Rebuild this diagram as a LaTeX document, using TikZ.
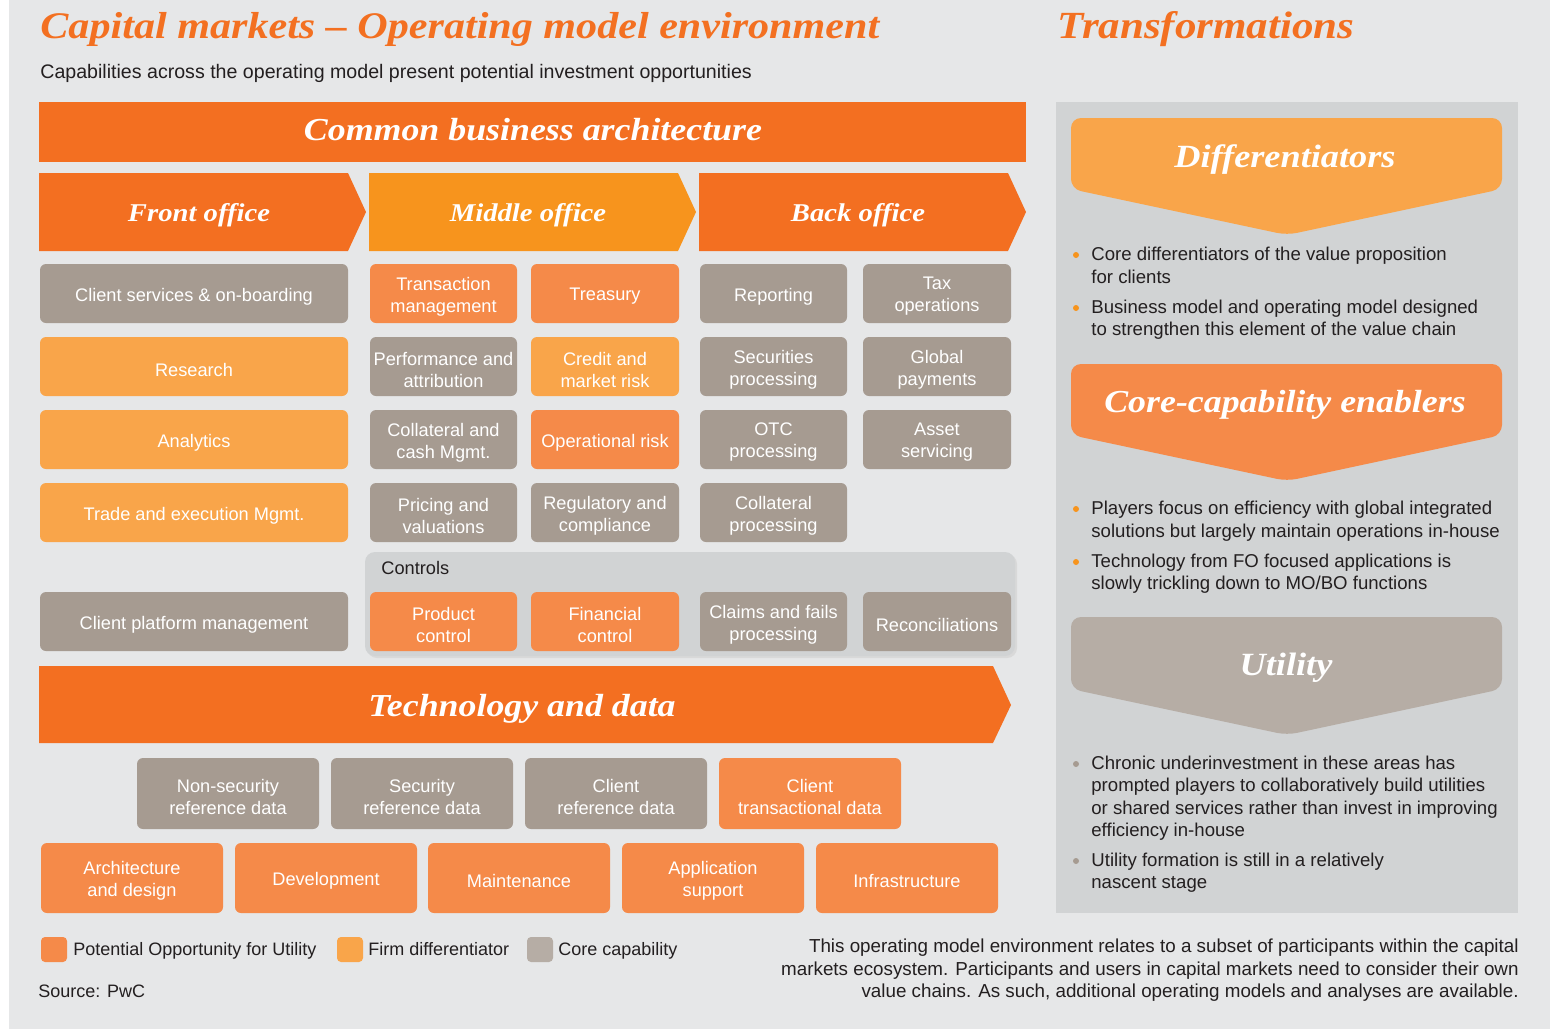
\documentclass[tikz,border=0pt]{standalone}
\usepackage{fontspec}
\setmainfont{Liberation Sans}
\newfontfamily\hdrfont{Liberation Serif}[FakeStretch=1.12]
\definecolor{bg}{HTML}{E6E7E8}
\definecolor{dorange}{HTML}{F36F21}
\definecolor{morange}{HTML}{F7941D}
\definecolor{corange}{HTML}{F58A49}
\definecolor{lorange}{HTML}{F9A54A}
\definecolor{bgray}{HTML}{A69B91}
\definecolor{ugray}{HTML}{B6ADA5}
\definecolor{panel}{HTML}{D1D3D4}
\definecolor{txt}{HTML}{231F20}
\definecolor{ttl}{HTML}{F37021}
\newcommand\bx[7]{\fill[#6,rounded corners=3pt] (#2,#3) rectangle (#4,#5);
  \node[boxtext] (#1) at ({(#2+#4)/2},{(#3+#5)/2}) {#7};}
\begin{document}
\begin{tikzpicture}[x=0.5pt,y=-0.5pt,
  boxtext/.style={text=white, align=center, inner sep=0pt, yshift=-1.5pt, font=\fontsize{9.1}{11}\selectfont},
  hdr/.style={text=white, inner sep=0pt, anchor=base, font=\hdrfont\bfseries\itshape\fontsize{#1}{#1}\selectfont},
  bul/.style={anchor=base west, inner sep=0pt, text=txt, font=\fontsize{9.3}{11}\selectfont},
  nar/.style={inner sep=0pt, text=txt, font=\fontsize{9}{11}\selectfont}]
\useasboundingbox (0,0) rectangle (1555,1029);
\fill[white] (0,0) rectangle (1555,1029);
\fill[bg] (9,0) rectangle (1550,1029);
% titles
\node[anchor=base west, inner sep=0pt, text=ttl, font=\hdrfont\bfseries\itshape\fontsize{18.8}{19}\selectfont] (title) at (40,38) {Capital markets – Operating model environment};
\node[anchor=base west, inner sep=0pt, text=ttl, font=\hdrfont\bfseries\itshape\fontsize{19.2}{19}\selectfont] (trans) at (1057,38) {Transformations};
\node[anchor=base west, inner sep=0pt, text=txt, font=\fontsize{9.8}{11}\selectfont] (sub) at (40,78) {Capabilities across the operating model present potential investment opportunities};
% common business architecture
\fill[dorange] (39,102) rectangle (1026,162);
\node[hdr=16] (cba) at (533,140) {Common business architecture};
% office arrows
\fill[dorange] (39,173) -- (348,173) -- (366,212) -- (348,251) -- (39,251) -- cycle;
\fill[morange] (369,173) -- (678,173) -- (696,212) -- (678,251) -- (369,251) -- cycle;
\fill[dorange] (699,173) -- (1008,173) -- (1026,212) -- (1008,251) -- (699,251) -- cycle;
\node[hdr=12.8] (fo) at (199,221) {Front office};
\node[hdr=12.8] (mo) at (528,221) {Middle office};
\node[hdr=12.8] (bo) at (858,221) {Back office};
% controls panel
\fill[black!15, rounded corners=5pt] (367,554) rectangle (1017,658);
\fill[panel, rounded corners=5pt] (365,552) rectangle (1015,656);
\node[anchor=base west, inner sep=0pt, text=txt, font=\fontsize{9.1}{11}\selectfont] (ctl) at (381,574) {Controls};
% row 1
\bx{b11}{40}{264}{348}{323}{bgray}{Client services \& on-boarding}
\bx{b12}{370}{264}{517}{323}{corange}{Transaction\\management}
\bx{b13}{531}{264}{679}{323}{corange}{Treasury}
\bx{b14}{700}{264}{847}{323}{bgray}{Reporting}
\bx{b15}{863}{264}{1011}{323}{bgray}{Tax\\operations}
% row 2
\bx{b21}{40}{337}{348}{396}{lorange}{Research}
\bx{b22}{370}{337}{517}{396}{bgray}{Performance and\\attribution}
\bx{b23}{531}{337}{679}{396}{lorange}{Credit and\\market risk}
\bx{b24}{700}{337}{847}{396}{bgray}{Securities\\processing}
\bx{b25}{863}{337}{1011}{396}{bgray}{Global\\payments}
% row 3
\bx{b31}{40}{410}{348}{469}{lorange}{Analytics}
\bx{b32}{370}{410}{517}{469}{bgray}{Collateral and\\cash Mgmt.}
\bx{b33}{531}{410}{679}{469}{corange}{Operational risk}
\bx{b34}{700}{410}{847}{469}{bgray}{OTC\\processing}
\bx{b35}{863}{410}{1011}{469}{bgray}{Asset\\servicing}
% row 4
\bx{b41}{40}{483}{348}{542}{lorange}{Trade and execution Mgmt.}
\bx{b42}{370}{483}{517}{542}{bgray}{Pricing and\\valuations}
\bx{b43}{531}{483}{679}{542}{bgray}{Regulatory and\\compliance}
\bx{b44}{700}{483}{847}{542}{bgray}{Collateral\\processing}
% controls row
\bx{b51}{40}{592}{348}{651}{bgray}{Client platform management}
\bx{b52}{370}{592}{517}{651}{corange}{Product\\control}
\bx{b53}{531}{592}{679}{651}{corange}{Financial\\control}
\bx{b54}{700}{592}{847}{651}{bgray}{Claims and fails\\processing}
\bx{b55}{863}{592}{1011}{651}{bgray}{Reconciliations}
% technology and data
\fill[dorange] (39,666) -- (993,666) -- (1011,705) -- (993,743) -- (39,743) -- cycle;
\node[hdr=16] (tech) at (522,716) {Technology and data};
\bx{t11}{137}{758}{319}{829}{bgray}{Non-security\\reference data}
\bx{t12}{331}{758}{513}{829}{bgray}{Security\\reference data}
\bx{t13}{525}{758}{707}{829}{bgray}{Client\\reference data}
\bx{t14}{719}{758}{901}{829}{corange}{Client\\transactional data}
\bx{t21}{41}{843}{223}{913}{corange}{Architecture\\and design}
\bx{t22}{235}{843}{417}{913}{corange}{Development}
\bx{t23}{428}{843}{610}{913}{corange}{Maintenance}
\bx{t24}{622}{843}{804}{913}{corange}{Application\\support}
\bx{t25}{816}{843}{998}{913}{corange}{Infrastructure}
% legend
\fill[corange, rounded corners=2pt] (41,937) rectangle (67,962);
\fill[lorange, rounded corners=2pt] (337,937) rectangle (363,962);
\fill[ugray, rounded corners=2pt] (527,937) rectangle (553,962);
\node[nar, anchor=base west] (l1) at (73,955) {Potential Opportunity for Utility};
\node[nar, anchor=base west] (l2) at (368,955) {Firm differentiator};
\node[nar, anchor=base west] (l3) at (558,955) {Core capability};
\node[nar, anchor=base west] (src) at (38,997) {Source: PwC};
\node[nar, anchor=base east, font=\fontsize{9.4}{11}\selectfont] (f1) at (1519,952) {This operating model environment relates to a subset of participants within the capital};
\node[nar, anchor=base east, font=\fontsize{9.4}{11}\selectfont] (f2) at (1519,975) {markets ecosystem. Participants and users in capital markets need to consider their own};
\node[nar, anchor=base east, font=\fontsize{9.4}{11}\selectfont] (f3) at (1519,997) {value chains. As such, additional operating models and analyses are available.};
% right panel
\fill[panel] (1056,102) rectangle (1518,913);
\fill[lorange, rounded corners=5pt] (1071,118) -- (1502,118) -- (1502,189) -- (1287,235) -- (1071,189) -- cycle;
\node[hdr=16.2] (diff) at (1285,167) {Differentiators};
\fill[corange, rounded corners=5pt] (1071,364) -- (1502,364) -- (1502,435) -- (1287,481) -- (1071,435) -- cycle;
\node[hdr=16] (core) at (1285,412) {Core-capability enablers};
\fill[ugray, rounded corners=5pt] (1071,617) -- (1502,617) -- (1502,689) -- (1287,735) -- (1071,689) -- cycle;
\node[hdr=16.2] (util) at (1286,675) {Utility};
% bullets
\foreach \y in {255,308,509,562} \fill[morange] (1076,\y) circle (3);
\foreach \y in {764,861} \fill[bgray] (1076,\y) circle (3);
\node[bul] (d1a) at (1091,260) {Core differentiators of the value proposition};
\node[bul] (d1b) at (1091,283) {for clients};
\node[bul] (d2a) at (1091,313) {Business model and operating model designed};
\node[bul] (d2b) at (1091,335) {to strengthen this element of the value chain};
\node[bul] (c1a) at (1091,514) {Players focus on efficiency with global integrated};
\node[bul] (c1b) at (1091,537) {solutions but largely maintain operations in-house};
\node[bul] (c2a) at (1091,567) {Technology from FO focused applications is};
\node[bul] (c2b) at (1091,589) {slowly trickling down to MO/BO functions};
\node[bul] (u1a) at (1091,769) {Chronic underinvestment in these areas has};
\node[bul] (u1b) at (1091,791) {prompted players to collaboratively build utilities};
\node[bul] (u1c) at (1091,814) {or shared services rather than invest in improving};
\node[bul] (u1d) at (1091,836) {efficiency in-house};
\node[bul] (u2a) at (1091,866) {Utility formation is still in a relatively};
\node[bul] (u2b) at (1091,888) {nascent stage};
\end{tikzpicture}
\end{document}
